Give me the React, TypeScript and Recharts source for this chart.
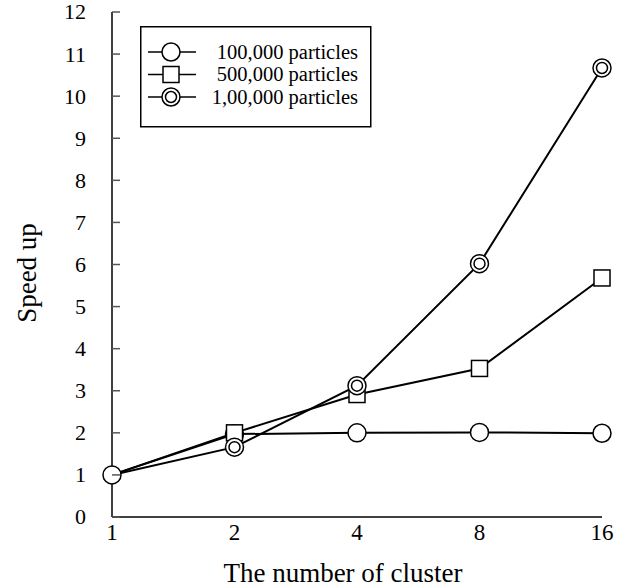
import { LineChart, Line, XAxis, YAxis } from 'recharts'

const clusters = ['1', '2', '4', '8', '16']
const speedup100k = [1.0, 1.97, 2.0, 2.01, 1.99]
const speedup500k = [1.0, 2.0, 2.91, 3.53, 5.68]
const speedup1m = [1.0, 1.66, 3.12, 6.02, 10.67]
const yTicks = [0, 1, 2, 3, 4, 5, 6, 7, 8, 9, 10, 11, 12]
const seriesNames = ['100,000 particles', '500,000 particles', '1,00,000 particles']

const FONT = '"Liberation Serif", "Times New Roman", serif'
const W = 624
const H = 587
const Y_AXIS_W = 112

const data = clusters.map((c, i) => ({
  cluster: c,
  p100k: speedup100k[i],
  p500k: speedup500k[i],
  p1m: speedup1m[i],
}))

type Shape = 'circle' | 'square' | 'double'

function Marker({ cx, cy, shape }: { cx: number; cy: number; shape: Shape }) {
  if (shape === 'square') {
    return <rect x={cx - 8} y={cy - 8} width={16} height={16} fill="#fff" stroke="#000" strokeWidth={1.5} />
  }
  if (shape === 'double') {
    return (
      <g>
        <circle cx={cx} cy={cy} r={9} fill="#fff" stroke="#000" strokeWidth={1.5} />
        <circle cx={cx} cy={cy} r={5.5} fill="#fff" stroke="#000" strokeWidth={1.5} />
      </g>
    )
  }
  return <circle cx={cx} cy={cy} r={9} fill="#fff" stroke="#000" strokeWidth={1.5} />
}

// the first point is shared by all series; the plain circle sits on top there
const makeDot = (shape: Shape, skipFirst: boolean) => (props: any) => {
  const { cx, cy, index } = props
  if (cx == null || cy == null || (skipFirst && index === 0)) return <g key={`d-${shape}-${index}`} />
  return (
    <g key={`d-${shape}-${index}`}>
      <Marker cx={cx} cy={cy} shape={shape} />
    </g>
  )
}

const YTick = (props: any) => {
  const { x, y, payload } = props
  return (
    <g>
      <line x1={Y_AXIS_W} x2={Y_AXIS_W + 8} y1={y} y2={y} stroke="#555" strokeWidth={1.5} />
      <text x={x} y={y} dy="0.34em" textAnchor="end" fontFamily={FONT} fontSize={22} fill="#000">
        {payload.value}
      </text>
    </g>
  )
}

const LegendBox = () => {
  const shapes: Shape[] = ['circle', 'square', 'double']
  return (
    <svg width={232} height={102} style={{ display: 'block' }}>
      <rect x={0.75} y={0.75} width={230} height={100} fill="#fff" stroke="#000" strokeWidth={1.5} />
      {seriesNames.map((name, i) => {
        const cy = 26 + i * 22.5
        return (
          <g key={name}>
            <line x1={8} x2={56} y1={cy} y2={cy} stroke="#000" strokeWidth={1.5} />
            <Marker cx={31} cy={cy} shape={shapes[i]} />
            <text x={218} y={cy} dy="0.34em" textAnchor="end" fontFamily={FONT} fontSize={20.5} fill="#000">
              {name}
            </text>
          </g>
        )
      })}
    </svg>
  )
}

export default function App() {
  return (
    <div style={{ position: 'absolute', left: 0, top: 0, width: W, height: H, background: '#fff' }}>
      <LineChart width={W} height={H} data={data} margin={{ top: 12, right: 22, bottom: 0, left: 0 }}>
        <XAxis
          dataKey="cluster"
          height={70}
          tickLine={false}
          tickSize={0}
          tickMargin={7}
          axisLine={{ stroke: '#000', strokeWidth: 1.5 }}
          tick={{ fill: '#000', fontSize: 23, fontFamily: FONT }}
          label={{
            content: ({ viewBox }: any) => (
              <text
                x={viewBox.x + viewBox.width / 2 - 14}
                y={582}
                textAnchor="middle"
                fontFamily={FONT}
                fontSize={27}
                fill="#000"
              >
                The number of cluster
              </text>
            ),
          }}
        />
        <XAxis xAxisId="top" dataKey="cluster" orientation="top" height={0} tick={false} tickLine={false} axisLine={{ stroke: '#000', strokeWidth: 1.5 }} />
        <YAxis
          width={Y_AXIS_W}
          domain={[0, 12]}
          ticks={yTicks}
          interval={0}
          tickLine={false}
          tickSize={0}
          tickMargin={26}
          axisLine={{ stroke: '#000', strokeWidth: 1.5 }}
          tick={<YTick />}
          label={{
            content: () => (
              <text
                x={36}
                y={273}
                transform="rotate(-90 36 273)"
                textAnchor="middle"
                fontFamily={FONT}
                fontSize={27}
                fill="#000"
              >
                Speed up
              </text>
            ),
          }}
        />
        <YAxis yAxisId="right" orientation="right" width={0} domain={[0, 12]} tick={false} tickLine={false} axisLine={{ stroke: '#000', strokeWidth: 1.5 }} />
        <Line
          dataKey="p100k"
          name={seriesNames[0]}
          stroke="#000"
          strokeWidth={2}
          dot={makeDot('circle', false)}
          isAnimationActive={false}
        />
        <Line
          dataKey="p500k"
          name={seriesNames[1]}
          stroke="#000"
          strokeWidth={2}
          dot={makeDot('square', true)}
          isAnimationActive={false}
        />
        <Line
          dataKey="p1m"
          name={seriesNames[2]}
          stroke="#000"
          strokeWidth={2}
          dot={makeDot('double', true)}
          isAnimationActive={false}
        />
      </LineChart>
      <div style={{ position: 'absolute', left: 140, top: 26 }}>
        <LegendBox />
      </div>
    </div>
  )
}
